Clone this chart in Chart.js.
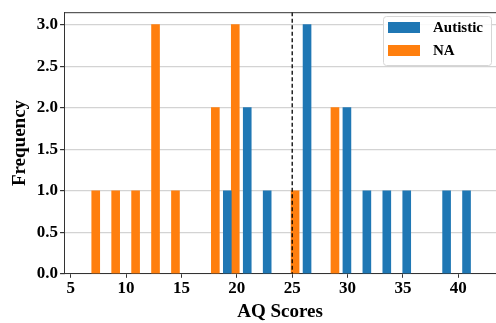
<!DOCTYPE html>
<html>
<head>
<meta charset="utf-8">
<script src="https://cdn.jsdelivr.net/npm/chart.js@4"></script>
<style>
  html, body { margin: 0; padding: 0; background: #fff; overflow: hidden; }
  canvas { display: block; }
</style>
</head>
<body>
<canvas id="aq-chart" width="496" height="323"></canvas>
<script>
// histogram bins (left edges, width 1.8) and counts per group
const binStarts = [6, 7.8, 9.6, 11.4, 13.2, 15, 16.8, 18.6, 20.4, 22.2, 24, 25.8, 27.6, 29.4, 31.2, 33, 34.8, 36.6, 38.4, 40.2];
const autisticCounts = [0, 0, 0, 0, 0, 0, 0, 1, 2, 1, 0, 3, 0, 2, 1, 1, 1, 0, 1, 1];
const naCounts = [1, 1, 1, 3, 1, 0, 2, 3, 0, 0, 1, 0, 2, 0, 0, 0, 0, 0, 0, 0];
const seriesLabels = ['Autistic', 'NA'];
const xTicks = [5, 10, 15, 20, 25, 30, 35, 40];
const yTicks = [0, 0.5, 1, 1.5, 2, 2.5, 3];
const cutoff = 25;

const FONT = "'Liberation Serif', 'Times New Roman', serif";
const binWidth = 1.8;
const barW = binWidth * 0.4;

// bar centers like matplotlib's side by side histogram (empty bins skipped)
function toPoints(counts, slot) {
    return binStarts
        .map((b, i) => ({ x: b + binWidth * 0.1 + barW * (slot + 0.5), y: counts[i] }))
        .filter(p => p.y > 0);
}

// dashed cutoff line, top spine and legend box
const extras = {
    id: 'extras',
    afterDatasetsDraw(chart) {
        const ctx = chart.ctx;
        const area = chart.chartArea;
        const x = chart.scales.x.getPixelForValue(cutoff);
        ctx.save();
        ctx.strokeStyle = '#000';
        ctx.lineWidth = 1.3;
        ctx.setLineDash([4, 2.5]);
        ctx.beginPath();
        ctx.moveTo(x, area.top);
        ctx.lineTo(x, area.bottom);
        ctx.stroke();
        ctx.setLineDash([]);
        ctx.strokeStyle = '#333';
        ctx.lineWidth = 1;
        ctx.beginPath();
        ctx.moveTo(area.left, area.top + 0.5);
        ctx.lineTo(area.right, area.top + 0.5);
        ctx.stroke();

        // legend
        const lx = 383, ly = 16, lw = 108, lh = 49;
        ctx.fillStyle = 'rgba(255,255,255,0.85)';
        ctx.strokeStyle = '#d6d6d6';
        ctx.beginPath();
        ctx.roundRect(lx + 0.5, ly + 0.5, lw, lh, 3);
        ctx.fill();
        ctx.stroke();
        ctx.font = 'bold 15px ' + FONT;
        ctx.textBaseline = 'middle';
        chart.data.datasets.forEach((ds, i) => {
            const y = ly + 6 + i * 23;
            ctx.fillStyle = ds.backgroundColor;
            ctx.fillRect(388, y, 32, 11);
            ctx.fillStyle = '#000';
            ctx.fillText(ds.label, 433, y + 6);
        });
        ctx.restore();
    }
};

new Chart(document.getElementById('aq-chart'), {
    type: 'bar',
    data: {
        datasets: [
            { label: seriesLabels[0], data: toPoints(autisticCounts, 0), backgroundColor: '#1f77b4' },
            { label: seriesLabels[1], data: toPoints(naCounts, 1), backgroundColor: '#ff7f0e' }
        ]
    },
    options: {
        responsive: false,
        animation: false,
        grouped: false,
        barPercentage: 1,
        categoryPercentage: 1,
        layout: { padding: { top: 7, right: 0, left: 9, bottom: 0 } },
        plugins: { legend: { display: false }, tooltip: { enabled: false } },
        scales: {
            x: {
                type: 'linear',
                offset: false,
                min: 4.4,
                max: 43.4,
                afterBuildTicks: axis => { axis.ticks = xTicks.map(v => ({ value: v })); },
                grid: { offset: false, drawOnChartArea: false, tickLength: 4, tickColor: '#333' },
                border: { color: '#333', width: 1 },
                ticks: { color: '#000', padding: 1, maxRotation: 0, font: { family: FONT, size: 17, weight: 'bold' } },
                title: { display: true, text: 'AQ Scores', color: '#000', padding: { top: 0, bottom: 0 }, font: { family: FONT, size: 19, weight: 'bold' } }
            },
            y: {
                min: 0,
                max: 3.15,
                afterBuildTicks: axis => { axis.ticks = yTicks.map(v => ({ value: v })); },
                grid: { color: '#d3d3d3', lineWidth: 1.2, tickLength: 4, tickColor: '#333' },
                border: { color: '#333', width: 1 },
                ticks: { color: '#000', padding: 2, callback: v => Number(v).toFixed(1), font: { family: FONT, size: 17, weight: 'bold' } },
                title: { display: true, text: 'Frequency', color: '#000', padding: { top: 0, bottom: 3 }, font: { family: FONT, size: 19, weight: 'bold' } }
            }
        }
    },
    plugins: [extras]
});
</script>
</body>
</html>
